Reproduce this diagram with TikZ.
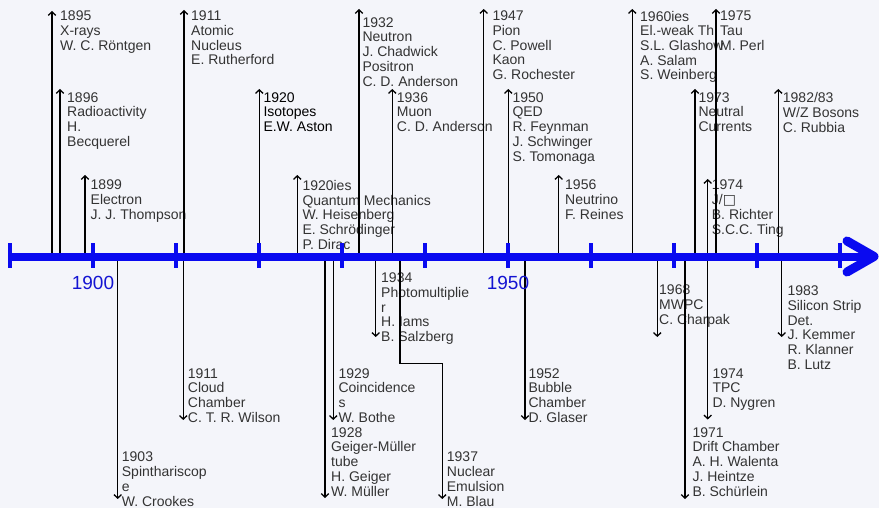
\documentclass[tikz,border=0pt]{standalone}
\usepackage{fontspec}
\setmainfont{Liberation Sans}
\newfontfamily\dejavu{DejaVu Sans}
\usetikzlibrary{arrows.meta}
\definecolor{bgcol}{HTML}{F4F5FA}
\definecolor{axisblue}{RGB}{10,10,240}
\definecolor{yearblue}{RGB}{20,20,210}
\definecolor{txtgray}{HTML}{333333}
\tikzset{
  evarrow/.style={line width=1.3pt,draw=black,-{Straight Barb[length=3.5pt,width=7.5pt,line width=1.3pt]}},
  evtext/.style={anchor=north west,inner sep=0pt,align=left,text=txtgray,font=\fontsize{14}{14.7}\selectfont},
  evtextdark/.style={evtext,text=black},
  yearlbl/.style={text=yearblue,inner sep=0pt,font=\fontsize{19}{20}\selectfont},
  axisline/.style={line width=8pt,draw=axisblue},
  axistick/.style={fill=axisblue,draw=none},
  axishead/.style={line width=9pt,draw=axisblue,line cap=round,line join=round}
}
% up event: name, x, tip y, text x, text top, text, style
\newcommand{\upev}[7]{%
  \coordinate (#1-s) at (#2,254);
  \coordinate (#1-t) at (#2,#3);
  \draw[evarrow] (#1-s) -- (#1-t);
  \node[#7] (#1) at (#4,#5) {#6};}
\newcommand{\downev}[6]{%
  \coordinate (#1-s) at (#2,259);
  \coordinate (#1-t) at (#2,#3);
  \draw[evarrow] (#1-s) -- (#1-t);
  \node[evtext] (#1) at (#4,#5) {#6};}
\begin{document}
\begin{tikzpicture}[x=1pt,y=-1pt]
\fill[bgcol] (0,0) rectangle (879,508);
\useasboundingbox (0,0) rectangle (879,508);

% upward events
\upev{u1895}{52}{11}{60}{10.7}{1895\\X-rays\\W. C. Röntgen}{evtext}
\upev{u1896}{60}{89}{67}{92.3}{1896\\Radioactivity\\H.\\Becquerel}{evtext}
\upev{u1899}{85}{175}{90.5}{180}{1899\\Electron\\J. J. Thompson}{evtext}
\upev{u1911}{184}{10}{191}{10.7}{1911\\Atomic\\Nucleus\\E. Rutherford}{evtext}
\upev{u1920}{259.3}{89}{263.3}{92.3}{1920\\Isotopes\\E.W. Aston}{evtextdark}
\upev{u1920ies}{297.3}{175}{302.3}{180}{1920ies\\Quantum Mechanics\\W. Heisenberg\\E. Schrödinger\\P. Dirac}{evtext}
\upev{u1932}{359}{9}{362.3}{17.3}{1932\\Neutron\\J. Chadwick\\Positron\\C. D. Anderson}{evtext}
\upev{u1936}{392.3}{89}{396.7}{92.3}{1936\\Muon\\C. D. Anderson}{evtext}
\upev{u1947}{483.7}{9}{492.3}{10.7}{1947\\Pion\\C. Powell\\Kaon\\G. Rochester}{evtext}
\upev{u1950}{508.3}{89}{512.3}{92.3}{1950\\QED\\R. Feynman\\J. Schwinger\\S. Tomonaga}{evtext}
\upev{u1956}{558.7}{175}{565}{180}{1956\\Neutrino\\F. Reines}{evtext}
\upev{u1960}{632.3}{9}{640}{10.7}{1960ies\\El.-weak Th.\\S.L. Glashow\\A. Salam\\S. Weinberg}{evtext}
\upev{u1973}{695}{89}{698.3}{92.3}{1973\\Neutral\\Currents}{evtext}
\upev{u1974}{707.7}{179}{711.7}{180}{1974\\J/{\dejavu □}\\B. Richter\\S.C.C. Ting}{evtext}
\upev{u1975}{716}{9}{720}{10.7}{1975\\Tau\\M. Perl}{evtext}
\upev{u1982}{778.3}{89}{782.7}{92.3}{1982/83\\W/Z Bosons\\C. Rubbia}{evtext}

% downward events
\downev{d1903}{117.7}{499}{121.7}{452}{1903\\Spinthariscop\\e\\W. Crookes}
\downev{d1911}{183.3}{420}{187.7}{368.3}{1911\\Cloud\\Chamber\\C. T. R. Wilson}
\downev{d1928}{325}{498}{331}{427.3}{1928\\Geiger-Müller\\tube\\H. Geiger\\W. Müller}
\downev{d1929}{333.3}{420}{338.3}{368.3}{1929\\Coincidence\\s\\W. Bothe}
\downev{d1934}{375.7}{337}{381}{272.7}{1934\\Photomultiplie\\r\\H. Iams\\B. Salzberg}
\downev{d1952}{525}{420}{528.3}{368.3}{1952\\Bubble\\Chamber\\D. Glaser}
\downev{d1968}{657.3}{337}{659}{285}{1968\\MWPC\\C. Charpak}
\downev{d1971}{685}{499}{692.3}{427.3}{1971\\Drift Chamber\\A. H. Walenta\\J. Heintze\\B. Schürlein}
\downev{d1974}{707.7}{419.5}{712.3}{368.3}{1974\\TPC\\D. Nygren}
\downev{d1983}{781.7}{337}{787.3}{285.7}{1983\\Silicon Strip\\Det.\\J. Kemmer\\R. Klanner\\B. Lutz}

% 1937 elbow connector
\coordinate (d1937-s) at (400,259);
\coordinate (d1937-m) at (442.3,363.3);
\coordinate (d1937-t) at (442.3,499);
\draw[evarrow] (d1937-s) |- (d1937-m) -- (d1937-t);
\node[evtext] (d1937) at (446.7,452) {1937\\Nuclear\\Emulsion\\M. Blau};

% time axis
\coordinate (axis-start) at (10,256.5);
\coordinate (axis-end) at (874,256.5);
\draw[axisline] (axis-start) -- (axis-end);
\foreach \k in {0,...,10}{
  \fill[axistick] ({10+83*\k-2},242.5) rectangle ({10+83*\k+2},268);
}
\coordinate (head-a) at (847,241);
\coordinate (head-b) at (847,272);
\draw[axishead] (head-a) -- (axis-end) -- (head-b);

\node[yearlbl] (y1900) at (93,283) {1900};
\node[yearlbl] (y1950) at (508,283) {1950};
\end{tikzpicture}
\end{document}
